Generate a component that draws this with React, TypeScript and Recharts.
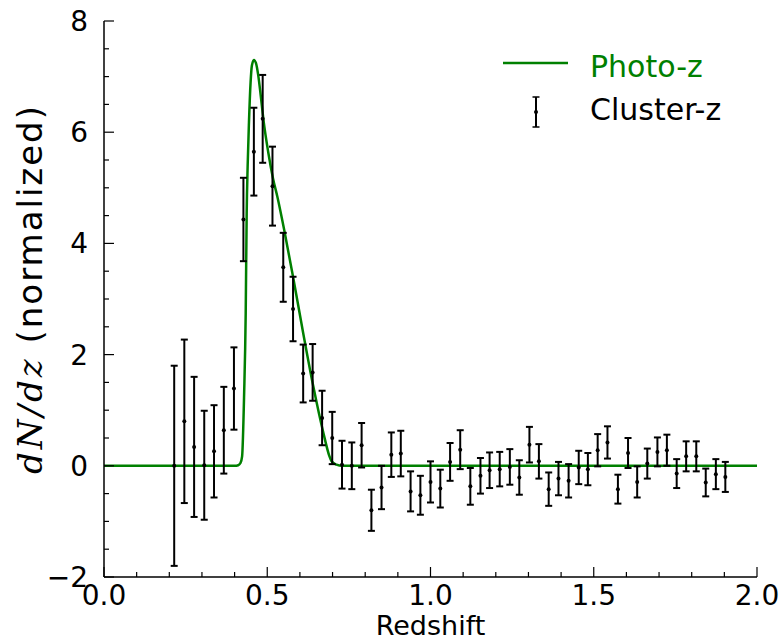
import React from 'react';
import { ComposedChart, Line, Scatter, ErrorBar, XAxis, YAxis, Legend } from 'recharts';

// Cluster-z binned points (redshift, dN/dz, 1-sigma error)
const clusterX = [
  0.215, 0.246, 0.276, 0.307, 0.337, 0.367, 0.398, 0.427, 0.459, 0.486,
  0.516, 0.549, 0.579, 0.610, 0.639, 0.668, 0.699, 0.729, 0.759, 0.789,
  0.819, 0.850, 0.880, 0.909, 0.939, 0.969, 1.000, 1.030, 1.060, 1.091,
  1.122, 1.153, 1.181, 1.212, 1.243, 1.272, 1.303, 1.332, 1.362, 1.392,
  1.423, 1.454, 1.482, 1.512, 1.542, 1.574, 1.605, 1.633, 1.664, 1.695,
  1.724, 1.754, 1.783, 1.814, 1.843, 1.874, 1.903
];
const clusterY = [
  0.00, 0.80, 0.34, 0.01, 0.26, 0.64, 1.39, 4.43, 5.65, 6.24,
  5.03, 3.57, 2.82, 1.66, 1.68, 0.86, 0.50, 0.02, 0.00, 0.37,
  -0.80, -0.39, 0.20, 0.22, -0.46, -0.53, -0.29, -0.41, 0.07, 0.29,
  -0.37, -0.18, -0.08, -0.06, -0.02, -0.21, 0.38, 0.08, -0.42, -0.23,
  -0.27, -0.03, -0.06, 0.28, 0.42, -0.42, 0.23, -0.29, 0.04, 0.25,
  0.28, -0.14, 0.17, 0.17, -0.30, -0.15, -0.20
];
const clusterErr = [
  1.80, 1.47, 1.26, 0.98, 0.83, 0.78, 0.74, 0.75, 0.79, 0.79,
  0.71, 0.62, 0.58, 0.52, 0.51, 0.49, 0.47, 0.43, 0.42, 0.40,
  0.37, 0.39, 0.40, 0.41, 0.36, 0.35, 0.37, 0.34, 0.34, 0.35,
  0.33, 0.32, 0.32, 0.31, 0.32, 0.31, 0.32, 0.31, 0.30, 0.30,
  0.30, 0.30, 0.29, 0.29, 0.29, 0.26, 0.27, 0.28, 0.27, 0.26,
  0.28, 0.26, 0.27, 0.27, 0.25, 0.27, 0.27
];

// Photo-z curve
const photoX = [
  0.0, 0.40, 0.411, 0.418, 0.423, 0.429, 0.434, 0.437, 0.440, 0.444,
  0.449, 0.453, 0.459, 0.465, 0.472, 0.480, 0.488, 0.503, 0.518, 0.531,
  0.554, 0.579, 0.610, 0.641, 0.672, 0.690, 0.697, 0.712, 0.73, 2.0
];
const photoY = [
  0, 0, 0.01, 0.05, 0.17, 1.25, 2.74, 4.54, 5.4, 6.18,
  6.9, 7.2, 7.3, 7.25, 7.04, 6.66, 6.24, 5.64, 5.16, 4.84,
  4.18, 3.40, 2.39, 1.43, 0.59, 0.18, 0.08, 0.02, 0, 0
];

const xMajorTicks = [0, 0.5, 1.0, 1.5, 2.0];
const xMinorTicks = [0.1, 0.2, 0.3, 0.4, 0.6, 0.7, 0.8, 0.9, 1.1, 1.2, 1.3, 1.4, 1.6, 1.7, 1.8, 1.9];
const yMajorTicks = [-2, 0, 2, 4, 6, 8];
const yMinorTicks = [-1.5, -1, -0.5, 0.5, 1, 1.5, 2.5, 3, 3.5, 4.5, 5, 5.5, 6.5, 7, 7.5];

const clusterData = clusterX.map((x, i) => ({ x, y: clusterY[i], err: clusterErr[i] }));
const photoData = photoX.map((x, i) => ({ x, y: photoY[i] }));

const xTicks = [...xMajorTicks, ...xMinorTicks].sort((a, b) => a - b);
const yTicks = [...yMajorTicks, ...yMinorTicks].sort((a, b) => a - b);

const FONT = '"DejaVu Sans", sans-serif';
const GREEN = '#008000';
const MAJOR = 10;
const MINOR = 5;

const isMajor = (v: number, list: number[]) => list.some((m) => Math.abs(m - v) < 1e-6);
const fmtY = (v: number) => (v < 0 ? `\u2212${Math.abs(v)}` : `${v}`);

const BottomTick = (props: any) => {
  const { x, y, payload } = props;
  const major = isMajor(payload.value, xMajorTicks);
  return (
    <g>
      <line x1={x} x2={x} y1={y} y2={y - (major ? MAJOR : MINOR)} stroke="#000" strokeWidth={1.2} />
      {major && (
        <text x={x} y={y + 28} textAnchor="middle" fontSize={28} fontFamily={FONT} fill="#000">
          {payload.value.toFixed(1)}
        </text>
      )}
    </g>
  );
};

const TopTick = (props: any) => {
  const { x, y, payload } = props;
  const major = isMajor(payload.value, xMajorTicks);
  return <line x1={x} x2={x} y1={y} y2={y + (major ? MAJOR : MINOR)} stroke="#000" strokeWidth={1.2} />;
};

const LeftTick = (props: any) => {
  const { x, y, payload } = props;
  const major = isMajor(payload.value, yMajorTicks);
  return (
    <g>
      <line x1={x} x2={x + (major ? MAJOR : MINOR)} y1={y} y2={y} stroke="#000" strokeWidth={1.2} />
      {major && (
        <text x={x - 16} y={y} dy="0.36em" textAnchor="end" fontSize={28} fontFamily={FONT} fill="#000">
          {fmtY(payload.value)}
        </text>
      )}
    </g>
  );
};

const RightTick = (props: any) => {
  const { x, y, payload } = props;
  const major = isMajor(payload.value, yMajorTicks);
  return <line x1={x} x2={x - (major ? MAJOR : MINOR)} y1={y} y2={y} stroke="#000" strokeWidth={1.2} />;
};

const XLabel = (props: any) => {
  const { viewBox } = props;
  return (
    <text x={viewBox.x + viewBox.width / 2} y={viewBox.y + 58} textAnchor="middle" fontSize={27} fontFamily={FONT} fill="#000">
      Redshift
    </text>
  );
};

const YLabel = (props: any) => {
  const { viewBox } = props;
  const cx = viewBox.x + 42;
  const cy = 289;
  return (
    <text x={cx} y={cy} textAnchor="middle" transform={`rotate(-90, ${cx}, ${cy})`} fontSize={34} fill="#000">
      <tspan fontFamily='"DejaVu Serif", serif' fontStyle="italic" letterSpacing={3}>dN/dz</tspan>
      <tspan fontFamily={FONT} letterSpacing={2}> (normalized)</tspan>
    </text>
  );
};

const LegendBox = () => (
  <svg width={270} height={100}>
    <line x1={8} x2={73} y1={23} y2={23} stroke={GREEN} strokeWidth={2.5} />
    <text x={95} y={37} fontSize={30} fontFamily={FONT} fill={GREEN}>Photo-z</text>
    <line x1={41} x2={41} y1={57} y2={87} stroke="#000" strokeWidth={2} />
    <line x1={37.5} x2={44.5} y1={57} y2={57} stroke="#000" strokeWidth={1.5} />
    <line x1={37.5} x2={44.5} y1={87} y2={87} stroke="#000" strokeWidth={1.5} />
    <circle cx={41} cy={72} r={2} fill="#000" />
    <text x={95} y={80} fontSize={30} fontFamily={FONT} fill="#000">Cluster-z</text>
  </svg>
);

const ClusterDot = (props: any) => {
  const { cx, cy } = props;
  return <circle cx={cx} cy={cy} r={2} fill="#000" />;
};

export default function App() {
  return (
    <div style={{ position: 'absolute', left: 0, top: 0, width: 780, height: 642, background: '#fff' }}>
      <ComposedChart width={780} height={642} margin={{ top: 21, right: 23, bottom: 0, left: 0 }}>
        <XAxis
          xAxisId={0}
          dataKey="x"
          type="number"
          domain={[0, 2]}
          ticks={xTicks}
          interval={0}
          allowDataOverflow
          height={65}
          tickSize={0}
          tickMargin={0}
          tickLine={false}
          axisLine={{ stroke: '#000', strokeWidth: 1.5 }}
          tick={<BottomTick />}
          label={{ content: XLabel }}
        />
        <XAxis
          xAxisId="top"
          orientation="top"
          type="number"
          domain={[0, 2]}
          ticks={xTicks}
          interval={0}
          height={0}
          tickSize={0}
          tickMargin={0}
          tickLine={false}
          axisLine={{ stroke: '#000', strokeWidth: 1.5 }}
          tick={<TopTick />}
        />
        <YAxis
          yAxisId={0}
          type="number"
          domain={[-2, 8]}
          ticks={yTicks}
          interval={0}
          allowDataOverflow
          width={104}
          tickSize={0}
          tickMargin={0}
          tickLine={false}
          axisLine={{ stroke: '#000', strokeWidth: 1.5 }}
          tick={<LeftTick />}
          label={{ content: YLabel }}
        />
        <YAxis
          yAxisId="right"
          orientation="right"
          type="number"
          domain={[-2, 8]}
          ticks={yTicks}
          interval={0}
          width={0}
          tickSize={0}
          tickMargin={0}
          tickLine={false}
          axisLine={{ stroke: '#000', strokeWidth: 1.5 }}
          tick={<RightTick />}
        />
        <Line
          data={photoData}
          dataKey="y"
          type="monotone"
          stroke={GREEN}
          strokeWidth={2.5}
          dot={false}
          activeDot={false}
          isAnimationActive={false}
        />
        <Scatter data={clusterData} dataKey="y" fill="#000" shape={<ClusterDot />} isAnimationActive={false}>
          <ErrorBar dataKey="err" direction="y" width={3.5} stroke="#000" strokeWidth={2} isAnimationActive={false} />
        </Scatter>
        <Legend
          layout="horizontal"
          verticalAlign="middle"
          align="center"
          content={<LegendBox />}
          wrapperStyle={{ position: 'absolute', left: 495, top: 40, width: 270, height: 100 }}
        />
      </ComposedChart>
    </div>
  );
}
